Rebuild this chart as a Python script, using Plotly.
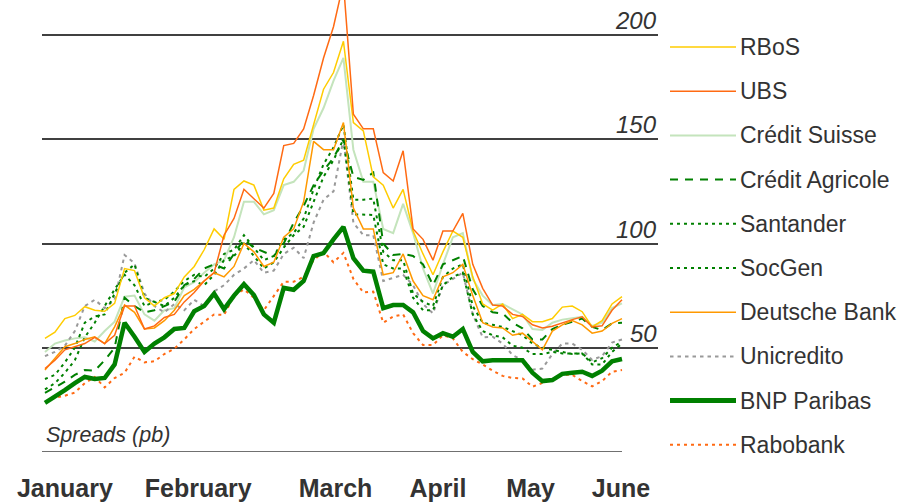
import plotly.graph_objects as go

# ---------------- data ----------------
months = ["January", "February", "March", "April", "May", "June"]
month_pos = [2.0, 15.4, 29.2, 39.5, 48.8, 57.9]
grid_values = [50, 100, 150, 200]
axis_title = "Spreads (pb)"

rbos = [54.5, 57.5, 64, 65.5, 69.7, 68, 67.5, 71.3, 88, 87, 74, 70, 74, 76, 84, 89, 97, 107, 102, 126,
        130, 128, 116, 117, 131, 138, 140, 157, 174, 182, 197, 158, 154, 132, 128, 117, 126, 106, 95, 85,
        96, 106, 103, 84, 71, 68, 71, 64, 66, 62.5, 62.5, 64, 69.5, 70, 67.3, 60, 63, 71, 74.5]
ubs = [40, 44, 49, 50.5, 52, 55, 52, 56, 70, 70, 59, 60.5, 64.5, 66, 72, 76.5, 82, 86, 104, 112,
       126, 121.5, 117, 124, 147, 148, 155, 171, 189, 204, 225, 162, 155, 155, 134, 130, 144.5, 107, 102, 92,
       106, 106, 114.5, 90, 78.5, 70.5, 70, 66, 65, 61, 59.5, 60.3, 62, 63.5, 64.8, 60, 60.5, 68, 73]
credit_suisse = [48, 52, 53.5, 54.5, 55, 53, 58, 62.5, 74.5, 75, 66, 63, 68, 69, 79, 81.5, 86, 90, 92, 103,
                 120, 120, 114, 116, 128, 129.6, 135, 155, 165, 178, 189, 145, 129.6, 129.6, 107, 105, 119, 105, 88, 76,
                 90, 103, 105, 83, 75, 70.5, 71, 68.5, 66, 59, 58.5, 62, 63.5, 64.1, 64.8, 60.5, 62, 69, 71.3]
credit_agricole = [28.4, 31, 33.7, 37, 39.3, 39, 44, 50, 74, 70, 67, 68, 70, 72, 80, 83, 88, 90, 88, 95,
                   102, 98, 96, 94, 100, 110, 118, 128, 135, 141, 150, 132, 130.5, 134, 100, 94.5, 95, 94, 90, 80,
                   90, 92, 94, 78, 70, 67, 66.5, 62, 59.3, 54, 54, 59, 61, 62.5, 64, 60, 58.5, 61.7, 62]
santander = [35, 37, 43, 50, 62, 65, 66, 76, 86, 90, 74, 72, 73, 77, 82, 85, 84, 88, 95, 97,
             104, 98, 92, 94, 102, 105, 112, 126, 138, 146, 157, 121, 121, 121.5, 96, 92, 92, 76, 72, 70,
             84, 88, 90, 70, 62, 61, 60, 58, 56, 52, 50, 49, 48, 47, 47.3, 43, 45, 50, 53]
socgen = [30, 33, 38, 44, 55, 62, 70, 78, 85, 80, 70, 72, 70, 74, 80, 82, 80, 85, 92, 94,
          100, 94, 88, 91, 98, 104, 108, 120, 132, 140, 150, 114, 113.7, 113.7, 90, 88, 88, 74, 68, 68,
          80, 84, 86, 66, 58, 56, 55, 51, 50, 47, 47, 48, 47.3, 47.3, 47.3, 42, 42, 48, 52]
deutsche_bank = [39.3, 45, 50.5, 52, 54, 55.3, 52, 60, 70.5, 67, 59, 59.5, 63, 68, 75, 78, 82, 86, 84, 89,
                 100, 96, 89, 91, 103, 107, 120, 149, 145, 145, 158, 117, 107, 107, 85, 86, 95, 82, 75, 73,
                 84, 86, 90, 75, 62, 60, 59.5, 56, 57, 53, 49, 58, 61, 63, 61, 57, 58, 61.7, 64]
unicredito = [46, 48, 51, 58, 70, 73, 69, 73, 94.5, 90.5, 76, 70, 67, 71, 68, 73, 70, 77, 80, 85,
              88, 92, 86, 87, 95, 98, 93, 110, 121, 125, 150, 110, 104, 104, 82, 83.5, 85, 80, 71, 66.5,
              80, 83, 86, 66, 55, 55.3, 52, 46.5, 44, 39.5, 40, 47, 52, 52, 49, 44.2, 46, 52.5, 54]
bnp_paribas = [23.6, 26.5, 29.7, 33, 36, 35, 35.5, 42, 62, 55.3, 48, 52, 55, 59, 59.5, 67.5, 70, 76, 68.5, 75,
               80.5, 75.3, 66, 62, 78.7, 77.8, 82, 94, 95.4, 102, 108, 93, 87, 86.5, 69, 70.5, 70.5, 67, 58, 54.5,
               57, 55.3, 59, 48, 43.5, 44, 44, 44, 44, 38, 34, 34.5, 37.5, 38, 38.5, 36.5, 39, 43.5, 44.6]
rabobank = [24, 26, 27, 28.5, 33, 36, 31, 35.5, 38, 45.7, 43, 43.5, 47, 49.5, 54, 59, 62.5, 66, 65.7, 75,
            78, 74, 68, 75, 81.7, 81.7, 84, 92, 96, 91, 95.5, 83, 76.5, 76.9, 62, 65, 66, 57, 51.3, 51.3,
            56, 54.5, 48, 44.5, 42, 39, 36.5, 35.5, 35.3, 31.3, 33, 35, 37, 37, 34, 31.5, 34, 38.5, 39.3]

names = ["RBoS", "UBS", "Crédit Suisse", "Crédit Agricole", "Santander",
         "SocGen", "Deutsche Bank", "Unicredito", "BNP Paribas", "Rabobank"]
values = [rbos, ubs, credit_suisse, credit_agricole, santander,
          socgen, deutsche_bank, unicredito, bnp_paribas, rabobank]

# ---------------- styles ----------------
styles = {
    "RBoS": dict(color="#FFCC00", width=1.5, dash="solid"),
    "UBS": dict(color="#FF6A13", width=1.5, dash="solid"),
    "Crédit Suisse": dict(color="#C4E4BC", width=2, dash="solid"),
    "Crédit Agricole": dict(color="#008000", width=2, dash="8px,7px"),
    "Santander": dict(color="#008000", width=2, dash="3px,4px"),
    "SocGen": dict(color="#008000", width=2, dash="3px,4px"),
    "Deutsche Bank": dict(color="#FF9900", width=1.5, dash="solid"),
    "Unicredito": dict(color="#999999", width=2, dash="3.5px,4px"),
    "BNP Paribas": dict(color="#008000", width=4.5, dash="solid"),
    "Rabobank": dict(color="#FF6A13", width=2, dash="3px,4px"),
}
draw_order = ["Crédit Suisse", "Unicredito", "Rabobank", "SocGen", "Santander",
              "Crédit Agricole", "Deutsche Bank", "RBoS", "UBS", "BNP Paribas"]

FONT = "Liberation Sans, Arial, sans-serif"
TXT = "#333333"

fig = go.Figure()
data_by_name = dict(zip(names, values))
for nm in draw_order:
    ys = data_by_name[nm]
    fig.add_trace(go.Scatter(
        x=list(range(len(ys))), y=ys, mode="lines", name=nm,
        line=dict(color=styles[nm]["color"], width=styles[nm]["width"], dash=styles[nm]["dash"]),
        showlegend=False, hoverinfo="name+y"))

n_pts = len(bnp_paribas)
shapes = []
annotations = []

# bottom baseline (y = 0), only under the data span
shapes.append(dict(type="line", xref="x", yref="y", x0=-0.3, x1=n_pts - 1, y0=0, y1=0,
                   line=dict(color="#404040", width=1.5), layer="below"))

# gridline labels
for v in grid_values:
    annotations.append(dict(xref="paper", yref="y", x=1.0, y=v, xanchor="right", yanchor="bottom",
                            text=str(v), showarrow=False, borderpad=0,
                            font=dict(family=FONT, size=24, color=TXT, style="italic")))

annotations.append(dict(xref="paper", yref="y", x=0, y=0, xanchor="left", yanchor="bottom",
                        xshift=3, yshift=4, text=axis_title, showarrow=False, borderpad=0,
                        font=dict(family=FONT, size=21.5, color=TXT, style="italic")))

# manual legend at the right
plot_h = 452.0
plot_l, plot_w = 42.0, 616.0
for k, nm in enumerate(names):
    ypx = 47 + 44.2 * k
    yp = (plot_h - ypx) / plot_h
    st = styles[nm]
    shapes.append(dict(type="line", xref="paper", yref="paper",
                       x0=(670 - plot_l) / plot_w, x1=(736 - plot_l) / plot_w, y0=yp, y1=yp,
                       line=dict(color=st["color"], width=st["width"] if nm != "BNP Paribas" else 5,
                                 dash=st["dash"])))
    annotations.append(dict(xref="paper", yref="paper", x=(739 - plot_l) / plot_w, y=yp,
                            xanchor="left", yanchor="middle", text=nm, showarrow=False, borderpad=0,
                            font=dict(family=FONT, size=23, color=TXT)))

fig.update_layout(
    width=900, height=504,
    margin=dict(l=42, r=242, t=0, b=52),
    paper_bgcolor="white", plot_bgcolor="white",
    showlegend=False,
    xaxis=dict(range=[-0.30, 61.62], tickvals=month_pos, ticktext=months,
               ticks="outside", ticklen=14, tickcolor="rgba(0,0,0,0)",
               tickfont=dict(family=FONT, size=25, color=TXT, weight="bold"),
               showgrid=False, zeroline=False, showline=False, fixedrange=True,
               automargin=False),
    yaxis=dict(range=[0, 216.8], tickvals=grid_values, showticklabels=False,
               showgrid=True, gridcolor="#404040", gridwidth=2,
               zeroline=False, showline=False, fixedrange=True, automargin=False),
    shapes=shapes, annotations=annotations,
    font=dict(family=FONT, color=TXT),
)

fig.write_html("out.html", config={"displayModeBar": False},
               post_script="document.body.style.margin='0';document.body.style.overflow='hidden';")
